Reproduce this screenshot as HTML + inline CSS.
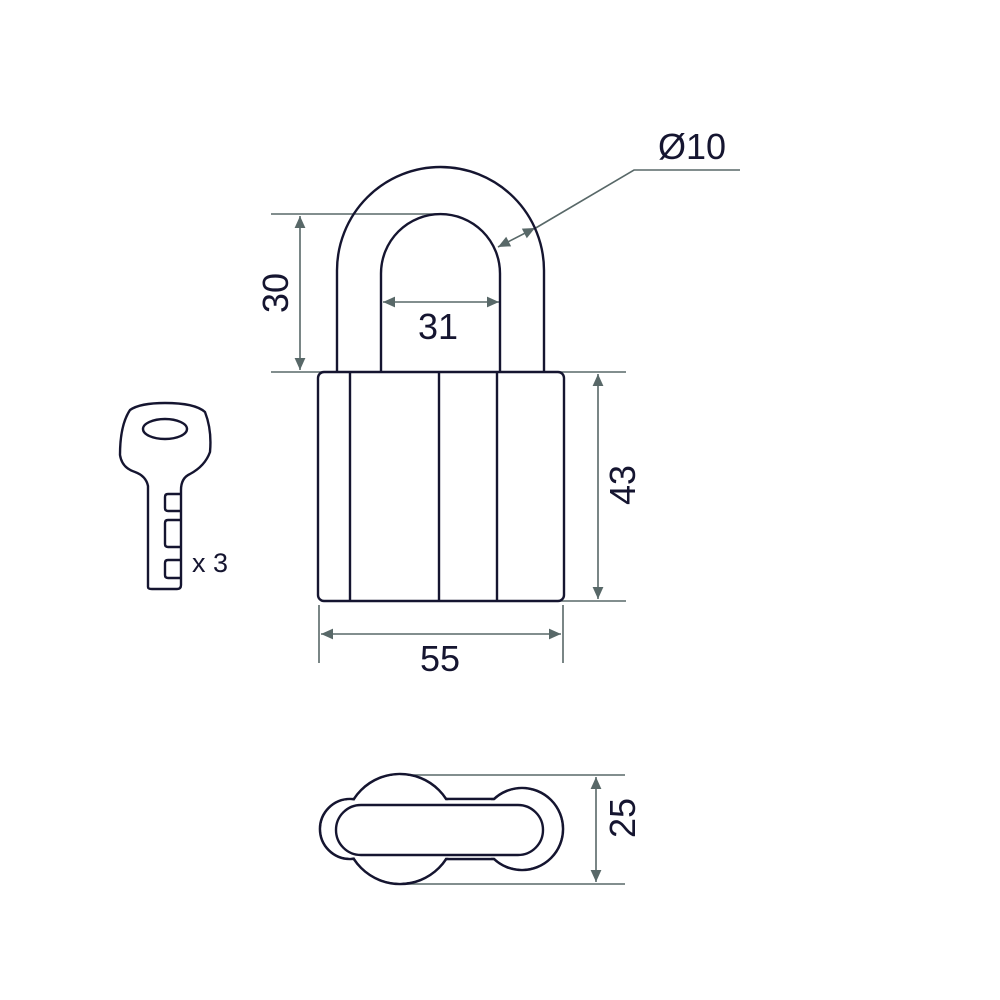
<!DOCTYPE html>
<html><head><style>body{margin:0;background:#fff}svg{display:block}</style></head><body>
<svg width="1000" height="1000" viewBox="0 0 1000 1000" xmlns="http://www.w3.org/2000/svg">
<defs>
<marker id="a" viewBox="0 0 10 10" refX="10" refY="5" markerWidth="16" markerHeight="12" markerUnits="userSpaceOnUse" orient="auto-start-reverse"><path d="M0,0.5 L10,5 L0,9.5 z" fill="#586868"/></marker>
</defs>
<g stroke="#586868" stroke-width="1.6" fill="none">
<line x1="271" y1="214" x2="440" y2="214"/>
<line x1="271" y1="372" x2="327" y2="372"/>
<line x1="300" y1="216" x2="300" y2="370" marker-start="url(#a)" marker-end="url(#a)"/>
<line x1="383" y1="302" x2="499" y2="302" marker-start="url(#a)" marker-end="url(#a)"/>
<line x1="560" y1="372" x2="626" y2="372"/>
<line x1="560" y1="601" x2="626" y2="601"/>
<line x1="598" y1="374" x2="598" y2="599" marker-start="url(#a)" marker-end="url(#a)"/>
<line x1="319" y1="605" x2="319" y2="663"/>
<line x1="563" y1="605" x2="563" y2="663"/>
<line x1="321" y1="634" x2="561" y2="634" marker-start="url(#a)" marker-end="url(#a)"/>
<line x1="498" y1="247" x2="535" y2="228" marker-start="url(#a)" marker-end="url(#a)"/>
<polyline points="534,229 634,170 740,170"/>
<line x1="400" y1="775" x2="625" y2="775"/>
<line x1="400" y1="884" x2="625" y2="884"/>
<line x1="596" y1="777" x2="596" y2="882" marker-start="url(#a)" marker-end="url(#a)"/>
</g>
<g stroke="#151530" stroke-width="2.4" fill="none" stroke-linejoin="round">
<path d="M337,372 V270.5 A103.5,103.5 0 0 1 544,270.5 V372"/>
<path d="M381,372 V273.5 A59.5,59.5 0 0 1 500,273.5 V372"/>
<rect x="318" y="372" width="246" height="229" rx="6" fill="#fff"/>
<line x1="350" y1="373" x2="350" y2="600"/>
<line x1="439" y1="373" x2="439" y2="600"/>
<line x1="497" y1="373" x2="497" y2="600"/>
<path d="M148,587 V486 Q146,476 135,472 Q122,468 120,455 Q120,425 130,410 Q140,403 165,403 Q195,403 205,412 Q212,430 210,452 Q205,466 190,474 Q181,478 181,490 V585 Q181,589 177,589 H152 Q148,589 148,587 Z"/>
<ellipse cx="165" cy="429" rx="22" ry="10"/>
<path d="M181,494 H168 Q165,494 165,497 V508 Q165,511 168,511 H181"/>
<path d="M181,520 H168 Q165,520 165,523 V544 Q165,547 168,547 H181"/>
<path d="M181,560 H168 Q165,560 165,563 V575 Q165,578 168,578 H181"/>
</g>
<g stroke="#151530" stroke-width="2.6">
<circle cx="400" cy="829" r="55" fill="none"/>
<circle cx="350" cy="829" r="30" fill="none"/>
<circle cx="522" cy="829" r="41" fill="none"/>
<rect x="420" y="799" width="90" height="60" fill="none"/>
</g>
<g fill="#fff">
<circle cx="400" cy="829" r="53.7"/>
<circle cx="350" cy="829" r="28.7"/>
<circle cx="522" cy="829" r="39.7"/>
<rect x="420" y="800.3" width="90" height="57.4"/>
</g>
<rect x="336" y="805" width="207" height="50" rx="25" fill="none" stroke="#151530" stroke-width="2.4"/>
<g font-family="Liberation Sans, sans-serif" fill="#151530" font-size="36">
<text x="438" y="339" text-anchor="middle">31</text>
<text x="440" y="671" text-anchor="middle">55</text>
<text x="692" y="159" text-anchor="middle">Ø10</text>
<text transform="translate(288,293) rotate(-90)" text-anchor="middle">30</text>
<text transform="translate(635,485) rotate(-90)" text-anchor="middle">43</text>
<text transform="translate(635,818) rotate(-90)" text-anchor="middle">25</text>
<text x="192" y="572" font-size="27">x 3</text>
</g>
</svg>
</body></html>
